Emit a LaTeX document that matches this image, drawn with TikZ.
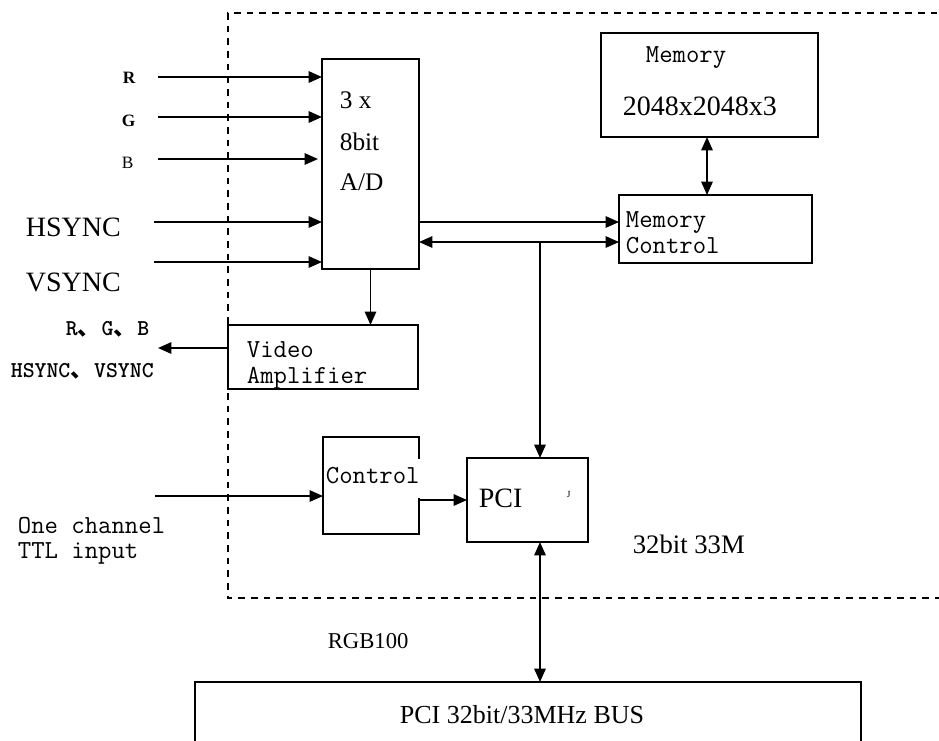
\documentclass[tikz,border=0pt]{standalone}
\usepackage{fontspec}
\setmainfont{Liberation Serif}
\newfontfamily\cjk{Noto Sans CJK SC}
\usetikzlibrary{positioning, arrows.meta, fit}

\newcommand{\sz}[1]{\fontsize{#1pt}{#1pt}\selectfont}
\newcommand{\dun}{\makebox[1.05em][l]{\cjk 、}}

\begin{document}
\begin{tikzpicture}[
    x=0.75pt, y=-0.75pt, % pixel grid, y downwards
    line width=1.3pt,
    box/.style={draw, inner sep=0pt, outer sep=0pt},
    arr/.style={-{Triangle[length=10pt,width=8.5pt]}},
    darr/.style={{Triangle[length=10pt,width=8.5pt]}-{Triangle[length=10pt,width=8.5pt]}},
    lbl/.style={inner sep=0pt, anchor=base west},
    mono/.style={lbl, font=\ttfamily\sz{19.5}},
    frame/.style={dash pattern=on 5pt off 4.5pt, line width=1pt}
]

% --- Area del disegno ---
\clip (0,0) rectangle (939,740);
\fill[white] (0,0) rectangle (939,740);

% --- Cornice tratteggiata (scheda) ---
\draw[frame] (950,13) -- (228,13) -- (228,598) -- (950,598);

% --- Blocchi ---
\node[box, fit={(322,59) (419,269)}] (ad) {};
\node[box, fit={(601,33) (818,137)}] (mem) {};
\node[box, fit={(619,195) (812,263)}] (memctl) {};
\node[box, fit={(228,325) (418,389)}] (vamp) {};
\node[inner sep=0pt, outer sep=0pt, fit={(323,437) (419,534)}] (ctrl) {};
\node[box, fit={(467,458) (588,542)}] (pci) {};
\node[box, fit={(195,682) (861,760)}] (bus) {};

% Bordo del blocco Control (aperto a destra dietro il testo)
\coordinate (gaptop) at (419,459);
\coordinate (gapbot) at (419,498);
\draw (gaptop) -- (ctrl.north east) -- (ctrl.north west)
      -- (ctrl.south west) -- (ctrl.south east) -- (gapbot);

% --- Testi nei blocchi ---
\node[lbl, font=\sz{19}] (adA) at (339,108) {3 x};
\node[lbl, font=\sz{19}] (adB) at (339,150) {8bit};
\node[lbl, font=\sz{19}] (adC) at (339,190) {A/D};

\node[mono] (memA) at (645,62) {Memory};
\node[lbl, font=\sz{21}] (memB) at (622,115) {2048x2048x3};

\node[mono] (mcA) at (625,227) {Memory};
\node[mono] (mcB) at (625,253) {Control};

\node[mono] (vaA) at (246,357) {Video};
\node[mono] (vaB) at (246,383) {Amplifier};

\node[mono] (ctrlT) at (325,483) {Control};

\node[lbl, font=\sz{21}] (pciT) at (478,507) {PCI};
\node[lbl, font=\sz{7}] (pciM) at (566,497) {J};

\node[inner sep=0pt, anchor=base, font=\sz{19.5}] (busT) at (522,723) {PCI 32bit/33MHz BUS};

% --- Etichette libere ---
\node[lbl, font=\bfseries\sz{13}] (lR) at (122,83) {R};
\node[lbl, font=\bfseries\sz{13}] (lG) at (121,126) {G};
\node[lbl, font=\sz{13}] (lB) at (121,168) {B};
\node[lbl, font=\sz{21}] (lH) at (25,236) {HSYNC};
\node[lbl, font=\sz{21}] (lV) at (25,291) {VSYNC};

\node[lbl, font=\ttfamily\bfseries\sz{17}] (oRGB) at (65,335) {R\dun G\dun B};
\node[lbl, font=\ttfamily\bfseries\sz{17}] (oSync) at (10,377) {HSYNC\dun VSYNC};

\node[mono] (ttlA) at (17,533) {One channel};
\node[mono] (ttlB) at (17,558) {TTL input};

\node[lbl, font=\sz{20}] (spd) at (632,553) {32bit 33M};
\node[lbl, font=\sz{17}] (rgb) at (327,648) {RGB100};

% --- Ingressi A/D ---
\coordinate (inR) at (158,77);
\coordinate (inG) at (158,117);
\coordinate (inB) at (158,159);
\coordinate (inH) at (154,222);
\coordinate (inV) at (154,262);
\draw[arr] (inR) -- (inR -| ad.west);
\draw[arr] (inG) -- (inG -| ad.west);
\draw[arr] (inB) -- ([xshift=-3pt]inB -| ad.west);
\draw[arr] (inH) -- (inH -| ad.west);
\draw[arr] (inV) -- (inV -| ad.west);

% --- Uscita video ---
\coordinate (outV) at (158,348);
\draw[arr] (ad.south) -- (ad.south |- vamp.north);
\draw[arr] (vamp.west |- outV) -- (outV);

% --- Dati verso Memory Control ---
\coordinate (dat) at (500,222);
\coordinate (ctl) at (540,242);
\draw[arr] (ad.east |- dat) -- (memctl.west |- dat);
\draw[darr] (ad.east |- ctl) -- (memctl.west |- ctl);
\draw[arr] (ctl) -- (ctl |- pci.north);

\coordinate (mlink) at (707,160);
\draw[darr] (mlink |- mem.south) -- (mlink |- memctl.north);

% --- Ingresso TTL e PCI ---
\coordinate (ttlIn) at (155,496);
\coordinate (cp) at (440,500);
\coordinate (pb) at (540,610);
\draw[arr] (ttlIn) -- (ttlIn -| ctrl.west);
\draw[arr] (cp -| ctrl.east) -- (cp -| pci.west);
\draw[darr] (pb |- pci.south) -- (pb |- bus.north);

\end{tikzpicture}
\end{document}
